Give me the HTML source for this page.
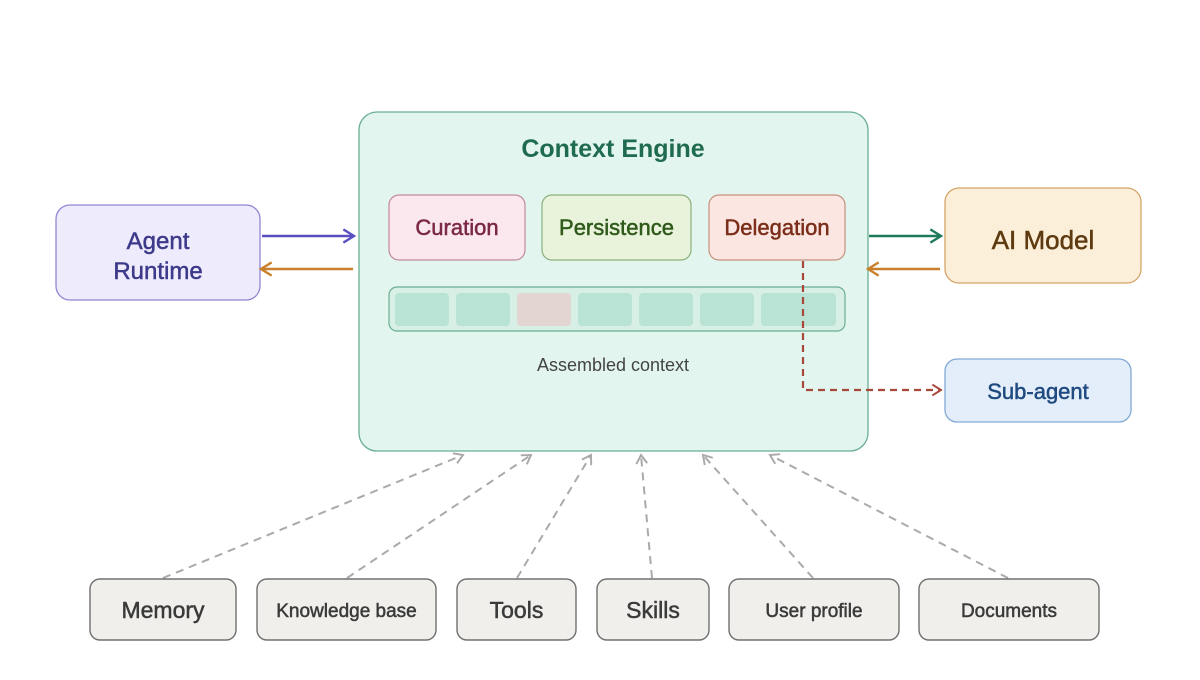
<!DOCTYPE html>
<html><head><meta charset="utf-8"><style>
html,body{margin:0;padding:0;background:#fff;}
svg{display:block;font-family:"Liberation Sans",Arial,sans-serif;}
.m{stroke-width:0.5px;}
</style></head><body>
<svg width="1200" height="680" viewBox="0 0 1200 680" xmlns="http://www.w3.org/2000/svg">
<defs>
<marker id="aP" viewBox="0 0 12 12" refX="10" refY="6" markerWidth="16" markerHeight="16" markerUnits="userSpaceOnUse" orient="auto"><path d="M2,1 L10,6 L2,11" fill="none" stroke="#5a4fc0" stroke-width="1.8"/></marker>
<marker id="aO" viewBox="0 0 12 12" refX="10" refY="6" markerWidth="16" markerHeight="16" markerUnits="userSpaceOnUse" orient="auto"><path d="M2,1 L10,6 L2,11" fill="none" stroke="#c8802a" stroke-width="1.8"/></marker>
<marker id="aG" viewBox="0 0 12 12" refX="10" refY="6" markerWidth="16" markerHeight="16" markerUnits="userSpaceOnUse" orient="auto"><path d="M2,1 L10,6 L2,11" fill="none" stroke="#1f7a5a" stroke-width="1.8"/></marker>
<marker id="aR" viewBox="0 0 12 12" refX="10" refY="6" markerWidth="13" markerHeight="13" markerUnits="userSpaceOnUse" orient="auto"><path d="M2,1 L10,6 L2,11" fill="none" stroke="#a8483a" stroke-width="1.8"/></marker>
<marker id="aX" viewBox="0 0 12 12" refX="10" refY="6" markerWidth="13" markerHeight="13" markerUnits="userSpaceOnUse" orient="auto"><path d="M2,1 L10,6 L2,11" fill="none" stroke="#aaa" stroke-width="1.8"/></marker>
</defs>

<rect x="359" y="112" width="509" height="339" rx="18" fill="#e2f5ee" stroke="#6aae92" stroke-width="1.3"/>
<text x="613" y="157" text-anchor="middle" font-size="25" fill="#1f6b4f" stroke="#1f6b4f" class="m" font-weight="bold" style="stroke-width:0">Context Engine</text>

<rect x="389" y="195" width="136" height="65" rx="10" fill="#fbe7ee" stroke="#c48a9c" stroke-width="1.2"/>
<text x="457" y="235" text-anchor="middle" font-size="22" fill="#7a2846" stroke="#7a2846" class="m">Curation</text>
<rect x="542" y="195" width="149" height="65" rx="10" fill="#e9f3dc" stroke="#8ab07a" stroke-width="1.2"/>
<text x="616.5" y="235" text-anchor="middle" font-size="22" fill="#2f5a1a" stroke="#2f5a1a" class="m">Persistence</text>
<rect x="709" y="195" width="136" height="65" rx="10" fill="#fbe6e1" stroke="#c8907e" stroke-width="1.2"/>
<text x="777" y="235" text-anchor="middle" font-size="22" fill="#7a2e1a" stroke="#7a2e1a" class="m">Delegation</text>

<rect x="389" y="287" width="456" height="44" rx="8" fill="#d8efe6" stroke="#6aae92" stroke-width="1.2"/>
<g fill="#b9e3d4">
<rect x="395" y="293" width="54" height="33" rx="4"/>
<rect x="456" y="293" width="54" height="33" rx="4"/>
<rect x="517" y="293" width="54" height="33" rx="4" fill="#e3d6d2"/>
<rect x="578" y="293" width="54" height="33" rx="4"/>
<rect x="639" y="293" width="54" height="33" rx="4"/>
<rect x="700" y="293" width="54" height="33" rx="4"/>
<rect x="761" y="293" width="75" height="33" rx="4"/>
</g>
<text x="613" y="371" text-anchor="middle" font-size="18" fill="#444">Assembled context</text>

<rect x="56" y="205" width="204" height="95" rx="14" fill="#eeebfc" stroke="#8f86d4" stroke-width="1.3"/>
<text x="158" y="249" text-anchor="middle" font-size="24" fill="#3d3a8a" stroke="#3d3a8a" class="m">Agent</text>
<text x="158" y="279" text-anchor="middle" font-size="24" fill="#3d3a8a" stroke="#3d3a8a" class="m">Runtime</text>
<line x1="262" y1="236" x2="354" y2="236" stroke="#5a4fc0" stroke-width="2.5" marker-end="url(#aP)"/>
<line x1="353" y1="269" x2="261" y2="269" stroke="#c8802a" stroke-width="2.5" marker-end="url(#aO)"/>

<rect x="945" y="188" width="196" height="95" rx="14" fill="#fcefd9" stroke="#d4a468" stroke-width="1.3"/>
<text x="1043" y="249" text-anchor="middle" font-size="26" fill="#5e3a10" stroke="#5e3a10" class="m">AI Model</text>
<line x1="869" y1="236" x2="941" y2="236" stroke="#1f7a5a" stroke-width="2.5" marker-end="url(#aG)"/>
<line x1="940" y1="269" x2="868" y2="269" stroke="#c8802a" stroke-width="2.5" marker-end="url(#aO)"/>

<rect x="945" y="359" width="186" height="63" rx="12" fill="#e3eefa" stroke="#82aad6" stroke-width="1.3"/>
<text x="1038" y="399" text-anchor="middle" font-size="22" fill="#1f4a80" stroke="#1f4a80" class="m">Sub-agent</text>
<polyline points="803,261 803,390 941,390" fill="none" stroke="#a8483a" stroke-width="2.2" stroke-dasharray="7,5" marker-end="url(#aR)"/>

<g stroke="#aaa" stroke-width="2" stroke-dasharray="8,6" fill="none">
<line x1="163" y1="578" x2="463" y2="455" marker-end="url(#aX)"/>
<line x1="347" y1="578" x2="531" y2="455" marker-end="url(#aX)"/>
<line x1="517" y1="578" x2="591" y2="455" marker-end="url(#aX)"/>
<line x1="652" y1="578" x2="641" y2="455" marker-end="url(#aX)"/>
<line x1="813" y1="578" x2="703" y2="455" marker-end="url(#aX)"/>
<line x1="1008" y1="578" x2="770" y2="455" marker-end="url(#aX)"/>
</g>

<g fill="#f0efeb" stroke="#707070" stroke-width="1.4">
<rect x="90" y="579" width="146" height="61" rx="10"/>
<rect x="257" y="579" width="179" height="61" rx="10"/>
<rect x="457" y="579" width="119" height="61" rx="10"/>
<rect x="597" y="579" width="112" height="61" rx="10"/>
<rect x="729" y="579" width="170" height="61" rx="10"/>
<rect x="919" y="579" width="180" height="61" rx="10"/>
</g>
<g fill="#3a3a3a" stroke="#3a3a3a" text-anchor="middle" class="m">
<text x="163" y="618" font-size="23">Memory</text>
<text x="346.5" y="617" font-size="19">Knowledge base</text>
<text x="516.5" y="618" font-size="23">Tools</text>
<text x="653" y="618" font-size="23">Skills</text>
<text x="814" y="617" font-size="19">User profile</text>
<text x="1009" y="617" font-size="19">Documents</text>
</g>
</svg>
</body></html>
